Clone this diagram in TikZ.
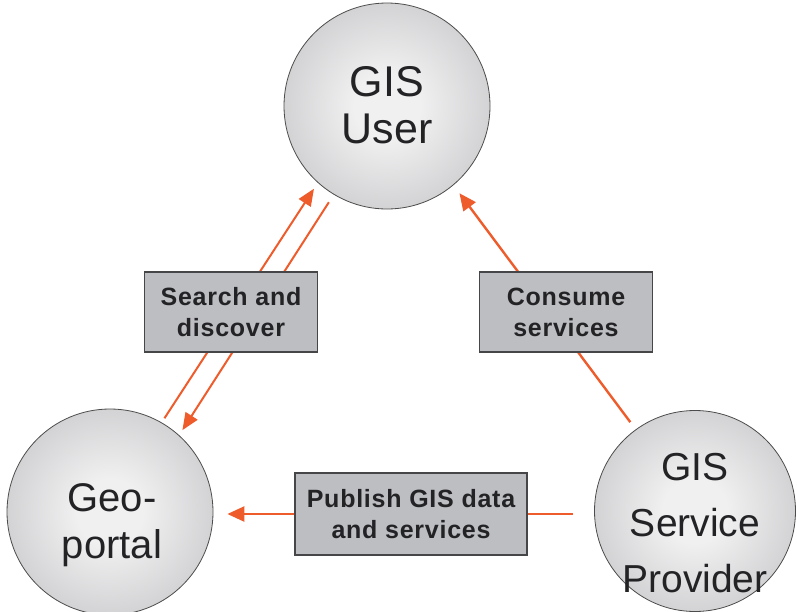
\documentclass[tikz,border=0pt]{standalone}
\usepackage{fontspec}
\setmainfont{Liberation Sans}
\newfontfamily\boxfont{Liberation Sans}[LetterSpace=3]
\usetikzlibrary{arrows.meta,backgrounds}
\definecolor{arrorange}{RGB}{238,92,44}
\definecolor{boxgray}{RGB}{189,190,194}
\definecolor{boxline}{RGB}{70,70,72}
\definecolor{txtdark}{RGB}{35,35,38}
\definecolor{ballin}{RGB}{240,240,241}
\definecolor{ballout}{RGB}{168,168,171}
\pgfdeclareradialshading{ball}{\pgfpoint{0bp}{0bp}}{color(0bp)=(ballin); color(8bp)=(ballin); color(50bp)=(ballout); color(100bp)=(ballout)}
\tikzset{
  actor/.style={circle, minimum size=206pt, inner sep=0pt, draw=black!70, line width=0.8pt,
    shading=ball},
  actortext/.style={text=txtdark, align=center, inner sep=0pt, font=\fontsize{40}{47}\selectfont},
  label box/.style={rectangle, fill=boxgray, draw=boxline, line width=1.4pt,
    minimum width=173pt, minimum height=80pt, inner sep=0pt, align=center,
    text=txtdark, font=\boxfont\bfseries\fontsize{25}{31}\selectfont},
  flow/.style={draw=arrorange, line width=2.4pt, -{Triangle[length=17pt,width=15pt]}},
  thinflow/.style={draw=arrorange, line width=2pt, -{Triangle[length=17pt,width=14pt]}}
}
\begin{document}
\begin{tikzpicture}[x=1pt,y=-1pt]
\useasboundingbox (0,0) rectangle (797,611);
\node[actor] (user) at (387,106) {};
\node[actortext, font=\fontsize{43}{47}\selectfont] (usertext) at (387,105) {GIS\\User};
\node[actor] (geo) at (110,512) {};
\node[actortext] (geotext) at (112,525) {Geo-\\portal};
\node[actor, minimum size=201pt] (sp) at (695,511) {};
\node[actortext, font=\fontsize{39}{56}\selectfont] (sptext) at (695,523) {GIS\\Service\\Provider};
\node[label box] (search) at (231,312) {Search and\\discover};
\node[label box] (consume) at (566,312) {Consume\\services};
\node[label box, minimum width=232pt, minimum height=82pt] (publish) at (411,514) {Publish GIS data\\and services};
\begin{scope}[on background layer]
  \draw[thinflow, shorten <=5pt, shorten >=7pt] (geo.60.6) -- (user.228);
  \draw[thinflow, shorten <=9pt, shorten >=6pt] (user.239.6) -- (geo.48.7);
  \draw[flow, shorten <=9pt, shorten >=10pt] (sp.126.4) -- (user.310);
  \draw[flow, shorten <=21pt, shorten >=14pt] (sp.west |- publish.east) -- (geo.east |- publish.west);
\end{scope}
\end{tikzpicture}
\end{document}
